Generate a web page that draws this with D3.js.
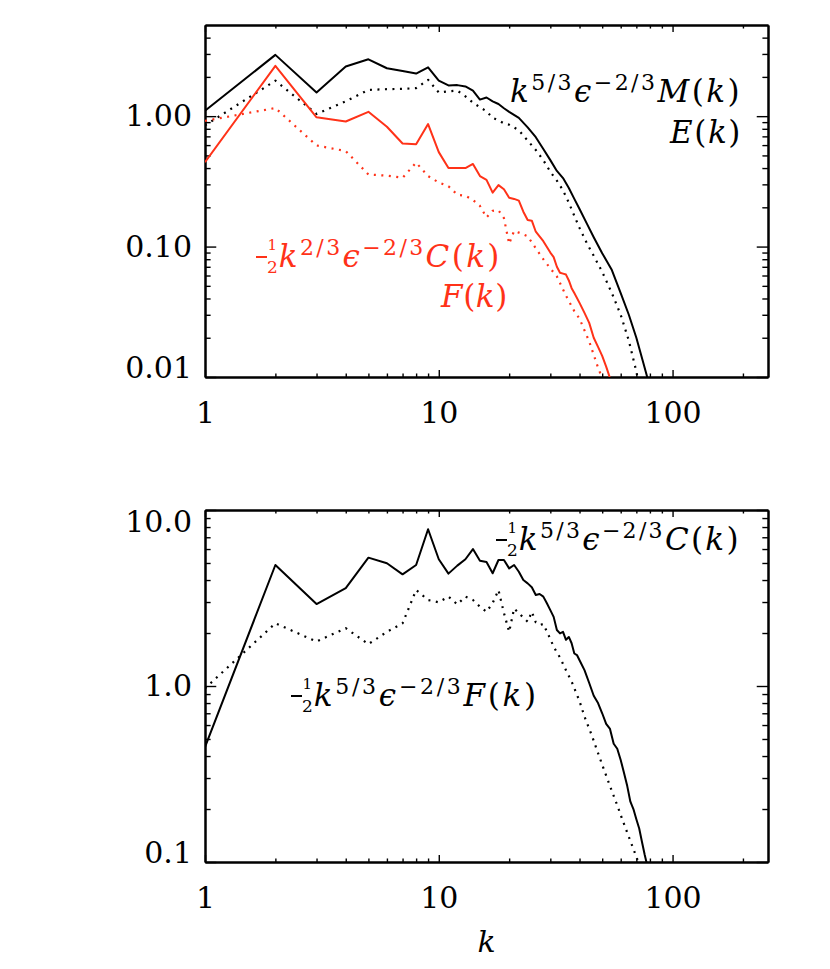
<!DOCTYPE html>
<html><head><meta charset="utf-8">
<script src="https://cdn.jsdelivr.net/npm/d3@7"></script>
<style>body{margin:0;background:#fff} svg{display:block}</style>
</head><body>
<svg id="chart" width="830" height="969"></svg>
<script>
// ---- tick values / labels ----
const xMajor = [1, 10, 100];
const xMajorLabels = ["1", "10", "100"];
const xMinor = [2,3,4,5,6,7,8,9,20,30,40,50,60,70,80,90,200];
const topYMajor = [0.01, 0.1, 1];
const topYLabels = ["0.01", "0.10", "1.00"];
const topYMinor = [0.02,0.03,0.04,0.05,0.06,0.07,0.08,0.09,0.2,0.3,0.4,0.5,0.6,0.7,0.8,0.9,2,3,4];
const botYMajor = [0.1, 1, 10];
const botYLabels = ["0.1", "1.0", "10.0"];
const botYMinor = [0.2,0.3,0.4,0.5,0.6,0.7,0.8,0.9,2,3,4,5,6,7,8,9];

// ---- top panel: k^{5/3} eps^{-2/3} M(k)  (solid black) ----
const topM_k = [1,2,3,4,5,6,7,8,9,10,11,12,13,14,15,16,17,18,19,20,22,24,26,28,30,32,34,36,38,40,43,46,50,55,60,65,70,75,80];
const topM_v = [1.10,2.95,1.52,2.40,2.73,2.33,2.22,2.12,2.37,1.87,1.72,1.73,1.69,1.57,1.34,1.39,1.30,1.24,1.15,1.08,0.97,0.82,0.69,0.56,0.46,0.38,0.335,0.281,0.232,0.194,0.150,0.118,0.089,0.066,0.044,0.030,0.020,0.0128,0.0084];
// ---- top panel: E(k) (dotted black) ----
const topE_k = [1,2,3,4,5,6,7,8,9,10,11,12,13,14,15,16,17,18,19,20,22,24,26,28,30,32,34,36,38,40,43,46,50,55,60,65,70,75];
const topE_v = [0.85,1.87,1.04,1.30,1.59,1.61,1.62,1.64,1.90,1.52,1.55,1.57,1.42,1.27,1.17,1.09,0.97,0.93,0.88,0.86,0.78,0.65,0.55,0.46,0.375,0.32,0.27,0.217,0.172,0.139,0.106,0.085,0.064,0.044,0.030,0.019,0.011,0.006];
// ---- top panel: 1/2 k^{2/3} eps^{-2/3} C(k) (solid red) ----
const topC_k = [1,2,3,4,5,6,7,8,9,10,11,12,13,14,15,16,17,18,19,20,21,22,23,24,25,26,28,30,31,32,33,34,35,36,37,38,40,42,44,46,48,50,52,54,56];
const topC_v = [0.444,2.43,0.98,0.91,1.08,0.83,0.617,0.61,0.87,0.53,0.40,0.40,0.40,0.43,0.347,0.325,0.259,0.296,0.275,0.237,0.232,0.225,0.185,0.16,0.158,0.13,0.11,0.09,0.083,0.07,0.063,0.062,0.061,0.055,0.048,0.044,0.037,0.031,0.026,0.020,0.017,0.0145,0.012,0.0098,0.0085];
// ---- top panel: F(k) (dotted red) ----
const topF_k = [1,2,3,4,5,6,7,8,9,10,11,12,13,14,15,16,17,18,19,20,21,22,23,24,26,28,30,32,35,38,40,44,48,50,52];
const topF_v = [0.92,1.155,0.596,0.54,0.357,0.35,0.337,0.44,0.347,0.31,0.29,0.25,0.245,0.228,0.205,0.167,0.188,0.19,0.165,0.105,0.132,0.128,0.124,0.12,0.097,0.08,0.068,0.059,0.042,0.032,0.028,0.0187,0.0118,0.0098,0.008];

// ---- bottom panel: 1/2 k^{5/3} eps^{-2/3} C(k) (solid black) ----
const botC_k = [1,2,3,4,5,6,7,8,9,10,11,12,13,14,15,16,17,18,19,20,21,22,23,24,25,26,27,28,29,30,31,32,33,34,35,36,37,38,39,40,42,44,46,48,50,52,54,56,58,60,62,64,66,68,70,72,74,76,78,80];
const botC_v = [0.45,4.87,2.92,3.6,5.36,4.98,4.31,4.87,7.77,5.25,4.35,4.83,5.25,6.0,5.15,5.07,4.37,5.2,5.2,4.66,4.87,4.46,4.0,3.83,3.64,3.29,3.33,3.22,2.95,2.7,2.47,2.08,1.99,2.03,1.83,1.9,1.75,1.53,1.50,1.40,1.23,1.04,0.88,0.80,0.70,0.61,0.57,0.47,0.44,0.38,0.32,0.27,0.22,0.20,0.175,0.155,0.13,0.11,0.095,0.08];
// ---- bottom panel: 1/2 k^{5/3} eps^{-2/3} F(k) (dotted black) ----
const botF_k = [1,2,3,4,5,6,7,8,9,10,11,12,13,14,15,16,17,18,19,20,21,22,23,24,25,26,27,28,30,31,33,35,37,40,42,45,47,50,54,58,61,65,70,73,76];
const botF_v = [0.97,2.27,1.79,2.13,1.73,2.03,2.27,3.51,3.08,2.99,3.22,2.91,3.22,3.08,2.82,2.64,2.96,3.51,2.6,2.03,2.76,2.59,2.45,2.32,2.64,2.3,2.22,2.25,1.85,1.67,1.45,1.23,1.06,0.82,0.67,0.53,0.45,0.357,0.27,0.21,0.174,0.139,0.107,0.092,0.078];

const RED = "#ff3218";
const FONT = "DejaVu Serif, serif";

const svg = d3.select("#chart");
const L = 205, R = 768;
const x = d3.scaleLog().domain([1, 256]).range([L, R]);
const yTop = d3.scaleLog().domain([0.01, 5]).range([377, 25]);
const yBot = d3.scaleLog().domain([0.1, 10]).range([862, 510]);

function panel(y, yMajor, yLabels, yMinor, id) {
  const [yb, yt] = y.range();
  const g = svg.append("g");
  const hLen = 0.02 * (R - L), vLen = 0.02 * (yb - yt);
  svg.append("clipPath").attr("id", id).append("rect")
    .attr("x", L).attr("y", yt).attr("width", R - L).attr("height", yb - yt);

  const styleAxis = a => {
    a.selectAll("path.domain").attr("stroke", "#000").attr("stroke-width", 2);
    a.selectAll(".tick line").attr("stroke", "#000").attr("stroke-width", 1.4);
    a.selectAll("text").attr("font-family", FONT).attr("font-size", 30).attr("fill", "#000");
  };
  g.append("g").attr("transform", `translate(0,${yb})`)
    .call(d3.axisBottom(x).tickValues(xMajor).tickSize(-vLen).tickSizeOuter(0).tickPadding(25)
      .tickFormat((d, i) => xMajorLabels[i])).call(styleAxis);
  g.append("g").attr("transform", `translate(0,${yb})`)
    .call(d3.axisBottom(x).tickValues(xMinor).tickSize(-vLen / 2).tickSizeOuter(0).tickFormat("")).call(styleAxis);
  g.append("g").attr("transform", `translate(0,${yt})`)
    .call(d3.axisTop(x).tickValues(xMajor).tickSize(-vLen).tickSizeOuter(0).tickFormat("")).call(styleAxis);
  g.append("g").attr("transform", `translate(0,${yt})`)
    .call(d3.axisTop(x).tickValues(xMinor).tickSize(-vLen / 2).tickSizeOuter(0).tickFormat("")).call(styleAxis);
  const ly = g.append("g").attr("transform", `translate(${L},0)`)
    .call(d3.axisLeft(y).tickValues(yMajor).tickSize(-hLen).tickSizeOuter(0).tickPadding(13)
      .tickFormat((d, i) => yLabels[i])).call(styleAxis);
  ly.selectAll(".tick text").attr("dy", d => {
    const py = y(d);
    if (Math.abs(py - yt) < 2) return "0.72em";
    if (Math.abs(py - yb) < 2) return "0.02em";
    return "0.32em";
  });
  g.append("g").attr("transform", `translate(${L},0)`)
    .call(d3.axisLeft(y).tickValues(yMinor).tickSize(-hLen / 2).tickSizeOuter(0).tickFormat("")).call(styleAxis);
  g.append("g").attr("transform", `translate(${R},0)`)
    .call(d3.axisRight(y).tickValues(yMajor).tickSize(-hLen).tickSizeOuter(0).tickFormat("")).call(styleAxis);
  g.append("g").attr("transform", `translate(${R},0)`)
    .call(d3.axisRight(y).tickValues(yMinor).tickSize(-hLen / 2).tickSizeOuter(0).tickFormat("")).call(styleAxis);
  return g;
}

function series(y, ks, vs, color, dotted, clipId) {
  const line = d3.line().x(d => x(d[0])).y(d => y(d[1]));
  svg.append("path").datum(ks.map((k, i) => [k, vs[i]]))
    .attr("clip-path", `url(#${clipId})`)
    .attr("d", line).attr("fill", "none").attr("stroke", color)
    .attr("stroke-width", dotted ? 2.2 : 2)
    .attr("stroke-linejoin", "round")
    .attr("stroke-dasharray", dotted ? "2,5.5" : null);
}

panel(yTop, topYMajor, topYLabels, topYMinor, "clipTop");
panel(yBot, botYMajor, botYLabels, botYMinor, "clipBot");

series(yTop, topE_k, topE_v, "#000", true, "clipTop");
series(yTop, topF_k, topF_v, RED, true, "clipTop");
series(yTop, topM_k, topM_v, "#000", false, "clipTop");
series(yTop, topC_k, topC_v, RED, false, "clipTop");
series(yBot, botF_k, botF_v, "#000", true, "clipBot");
series(yBot, botC_k, botC_v, "#000", false, "clipBot");

// ---- math labels ----
// parts: [text, kind]  kind: 'i' italic main, 'r' roman main, 's' superscript
function mathLabel(parts, leftX, rightX, baseY, color, half) {
  const g = svg.append("g").attr("fill", color).attr("font-family", FONT);
  const t = g.append("text").attr("x", 0).attr("y", 0).attr("font-size", 31);
  if (half) {
    g.append("line").attr("x1", -24).attr("x2", -13).attr("y1", -10).attr("y2", -10)
      .attr("stroke", color).attr("stroke-width", 2);
    t.attr("x", -13);
    t.append("tspan").attr("font-size", 15).attr("dy", -17).text("1");
    t.append("tspan").attr("font-size", 17).attr("dx", -10).attr("dy", 23).text("2");
  }
  const mains = [];
  let sup = false;
  parts.forEach(([s, kind], i) => {
    const ts = t.append("tspan").text(s);
    mains.push(ts);
    let dy = 0;
    if (i === 0 && half) { dy = -6; ts.attr("dx", 1); }
    if (kind === 's') {
      ts.attr("font-size", 22);
      if (!sup) dy += -12;
      sup = true;
    } else {
      if (sup) dy += 12;
      sup = false;
      if (kind === 'i') ts.attr("font-style", "italic");
    }
    if (dy) ts.attr("dy", dy);
  });
  const natural = mains.reduce((s, ts) => s + ts.node().getComputedTextLength(), 0);
  const nChars = parts.reduce((s, p) => s + p[0].length, 0);
  const ls = Math.max(0, ((rightX - leftX) - natural) / nChars);
  mains.forEach(ts => ts.attr("letter-spacing", ls));
  g.attr("transform", `translate(${leftX},${baseY})`);
  return g;
}

mathLabel([["k","i"],["5/3","s"],["ϵ","i"],["−2/3","s"],["M","i"],["(","r"],["k","i"],[")","r"]], 510, 742, 102, "#000", false);
mathLabel([["E","i"],["(","r"],["k","i"],[")","r"]], 670, 742, 143, "#000", false);
mathLabel([["k","i"],["2/3","s"],["ϵ","i"],["−2/3","s"],["C","i"],["(","r"],["k","i"],[")","r"]], 280, 503, 267, RED, true);
mathLabel([["F","i"],["(","r"],["k","i"],[")","r"]], 441, 508, 307, RED, false);
mathLabel([["k","i"],["5/3","s"],["ϵ","i"],["−2/3","s"],["C","i"],["(","r"],["k","i"],[")","r"]], 520, 742, 550, "#000", true);
mathLabel([["k","i"],["5/3","s"],["ϵ","i"],["−2/3","s"],["F","i"],["(","r"],["k","i"],[")","r"]], 315, 540, 706, "#000", true);

svg.append("text").attr("x", (L + R) / 2).attr("y", 952).attr("text-anchor", "middle")
  .attr("font-family", FONT).attr("font-size", 30).attr("font-style", "italic").text("k");
</script>
</body></html>
